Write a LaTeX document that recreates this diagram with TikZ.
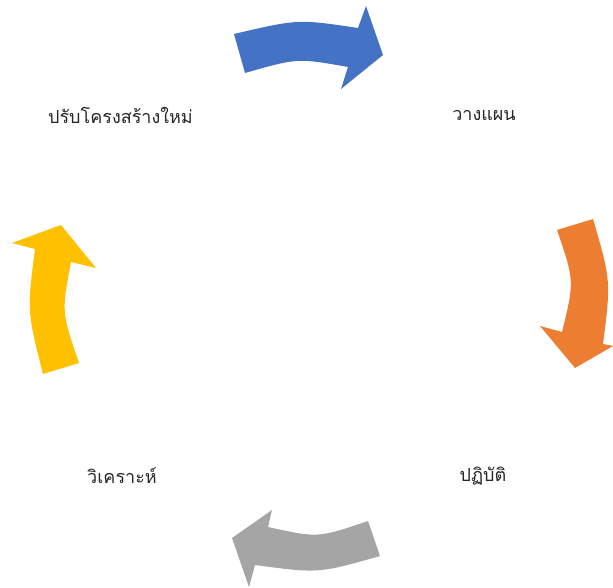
\documentclass[tikz,border=0pt]{standalone}
\usepackage{fontspec}
\newfontfamily\thaifont[Script=Thai]{Loma}
\definecolor{oblue}{HTML}{4472C4}
\definecolor{oorange}{HTML}{ED7D31}
\definecolor{ogray}{HTML}{A5A5A5}
\definecolor{oyellow}{HTML}{FFC000}
\definecolor{txt}{HTML}{262626}
\tikzset{lbl/.style={font=\thaifont\fontsize{18}{22}\selectfont, text=txt, inner sep=0pt}}
\begin{document}
\begin{tikzpicture}[x=1pt,y=-1pt]
\useasboundingbox (0,0) rectangle (613,588);
% blue arrow (top)
\fill[oblue] (234,34) .. controls (298,19) .. (358,28) -- (366,6) -- (383,55) -- (341,89) -- (348,67)
  .. controls (297.5,58) .. (245,73) -- cycle;
% orange arrow (right)
\fill[oorange] (593,219) .. controls (611,281) .. (603,344) -- (613,346) -- (575,368) -- (540,326) -- (562,332)
  .. controls (574.5,281) .. (557,230) -- cycle;
% gray arrow (bottom)
\fill[ogray] (380,556) .. controls (318.5,573.5) .. (255,565) -- (249,587) -- (232,538) -- (272,510) -- (268,527)
  .. controls (318,538) .. (368,521) -- cycle;
% yellow arrow (left)
\fill[oyellow] (43,374) .. controls (27,311) .. (35,249) -- (12,243) -- (61,225) -- (96,268) -- (71,262)
  .. controls (61.5,312) .. (79,363) -- cycle;
\node[lbl] (a) at (120.5,115) {ปรับโครงสร้างใหม่};
\node[lbl] (b) at (484,115) {วางแผน};
\node[lbl] (c) at (483,476) {ปฏิบัติ};
\node[lbl] (d) at (122,476) {วิเคราะห์};
\end{tikzpicture}
\end{document}
